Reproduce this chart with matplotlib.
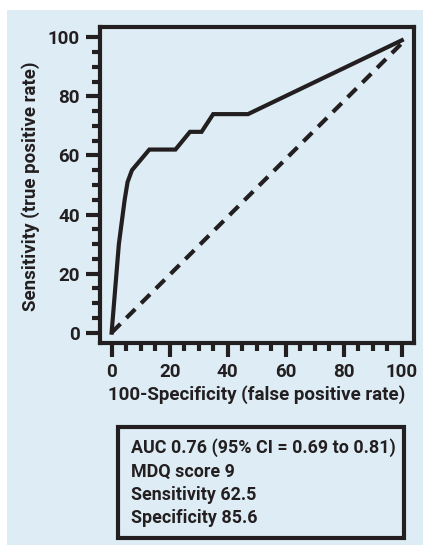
import matplotlib
matplotlib.use("Agg")
import matplotlib.pyplot as plt
from matplotlib.patches import Rectangle
from matplotlib.ticker import MultipleLocator

plt.rcParams['font.family'] = ['Roboto', 'DejaVu Sans']
plt.rcParams['font.weight'] = 'bold'

# ROC curve data (100-specificity, sensitivity)
fpr = [0, 2.5, 4.5, 5.5, 7, 13, 22, 27, 31, 35, 47, 100]
tpr = [0, 30, 45, 51, 55, 62, 62, 68, 68, 74, 74, 99]
ref_x = [0, 100]
ref_y = [0, 98]
x_ticks = [0, 20, 40, 60, 80, 100]
y_ticks = [0, 20, 40, 60, 80, 100]
box_lines = ["AUC 0.76 (95% CI = 0.69 to 0.81)", "MDQ score 9",
             "Sensitivity 62.5", "Specificity 85.6"]

W, H = 423, 545
fig = plt.figure(figsize=(W/100, H/100), dpi=100)
bg = '#deedf5'
ink = '#231f20'
fig.patches.append(Rectangle((7/W, 0), 1 - 7/W, 1 - 10/H, transform=fig.transFigure,
                             facecolor=bg, edgecolor='none', zorder=-10))

ax = fig.add_axes([100/W, 1 - 343/H, (414-100)/W, (343-27)/H])
ax.set_zorder(2)
ax.set_facecolor(bg)
ax.plot(fpr, tpr, color=ink, lw=3, solid_joinstyle='miter', zorder=3)
ax.plot(ref_x, ref_y, color=ink, lw=3, linestyle=(0, (3, 2)), zorder=2)
ax.set_xlim(-4, 104.2)
ax.set_ylim(-3.5, 103.5)
ax.set_xticks(x_ticks)
ax.set_yticks(y_ticks)
ax.xaxis.set_minor_locator(MultipleLocator(5))
ax.yaxis.set_minor_locator(MultipleLocator(5))
for s in ax.spines.values():
    s.set_linewidth(3)
    s.set_color(ink)
ax.tick_params(which='major', length=10, width=3, color=ink, labelsize=13.5)
ax.tick_params(axis='x', which='major', pad=4.5)
ax.tick_params(axis='y', which='major', pad=4.5)
ax.tick_params(which='minor', length=6, width=3, color=ink)
ax.tick_params(axis='both', labelcolor=ink)
ax.set_xlabel('100-Specificity (false positive rate)', fontsize=13.5, fontweight='bold',
              color=ink)
ax.set_ylabel('Sensitivity (true positive rate)', fontsize=13.5, fontweight='bold',
              color=ink)
ax.xaxis.set_label_coords(0.5, -(395 - 343) / (343 - 27), transform=ax.transAxes)
ax.xaxis.label.set_va('center')
ax.yaxis.set_label_coords(-(100 - 31) / (414 - 100), 0.495, transform=ax.transAxes)
ax.yaxis.label.set_va('center')

fig.patches.append(Rectangle((118/W, 1 - 538/H), (404-118)/W, (538-427)/H,
                             transform=fig.transFigure, facecolor='none',
                             edgecolor=ink, lw=3, zorder=3))
ys = [448, 471.5, 495, 518]
for t, yy in zip(box_lines, ys):
    fig.text(131/W, 1 - yy/H, t, fontsize=12.9, fontweight='bold', color=ink,
             va='center', ha='left')

fig.savefig('out.png', dpi=100, facecolor='white')
